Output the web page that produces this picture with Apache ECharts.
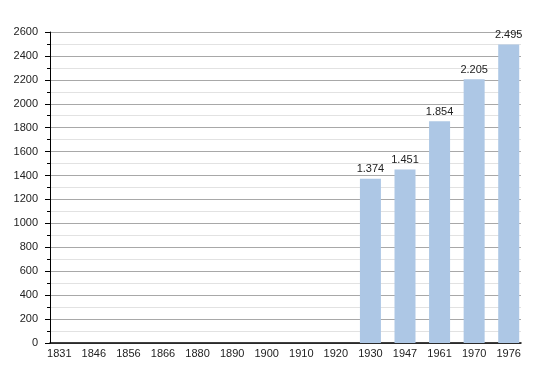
<!DOCTYPE html>
<html><head><meta charset="utf-8">
<script src="https://cdn.jsdelivr.net/npm/echarts@6/dist/echarts.min.js"></script>
<style>html,body{margin:0;padding:0;background:#fff}#c{width:550px;height:373px}</style>
</head><body><div id="c"></div>
<script>
const categories = ['1831','1846','1856','1866','1880','1890','1900','1910','1920','1930','1947','1961','1970','1976'];
const population = [null,null,null,null,null,null,null,null,null,1374,1451,1854,2205,2495];
const yTicks = {min:0, max:2600, interval:200};

const font = 'Liberation Sans, Arial, sans-serif';
const chart = echarts.init(document.getElementById('c'), null, {renderer:'canvas'});
function fmt(v){ return String(v).replace(/\B(?=(\d{3})+(?!\d))/g,'.'); }
chart.setOption({
  animation:false,
  grid:[
    {left:50, right:29, top:32, bottom:30},
    {left:42, right:24, top:32, bottom:30}
  ],
  xAxis:[
    {gridIndex:0, type:'value', min:0, max:1,
     axisLine:{show:true, onZero:false, lineStyle:{color:'#000', width:1.5}},
     axisTick:{show:false}, axisLabel:{show:false}, splitLine:{show:false}},
    {gridIndex:1, type:'category', data:categories,
     axisLine:{show:false}, axisTick:{show:false}, splitLine:{show:false},
     axisLabel:{color:'#222', fontSize:11, fontFamily:font, margin:5, interval:0}}
  ],
  yAxis:[
    {gridIndex:0, type:'value', min:yTicks.min, max:yTicks.max, interval:yTicks.interval,
     axisLine:{show:true, lineStyle:{color:'#000', width:1}},
     axisTick:{show:true, length:5, lineStyle:{color:'#000'}},
     minorTick:{show:true, splitNumber:2, length:3, lineStyle:{color:'#000'}},
     splitLine:{show:true, lineStyle:{color:'#a8a8a8', width:1}},
     minorSplitLine:{show:true, lineStyle:{color:'#e2e2e2', width:1}},
     axisLabel:{color:'#222', fontSize:11, fontFamily:font, margin:12, formatter:v=>String(v)}},
    {gridIndex:1, type:'value', min:yTicks.min, max:yTicks.max, interval:yTicks.interval, show:false,
     splitLine:{show:false}}
  ],
  series:[{
    type:'bar', xAxisIndex:1, yAxisIndex:1, data:population, barWidth:21,
    itemStyle:{color:'#adc7e5'},
    label:{show:true, position:'top', distance:4, color:'#222', fontSize:11, fontFamily:font,
      formatter:p=>fmt(p.value)}
  }]
});
</script></body></html>
